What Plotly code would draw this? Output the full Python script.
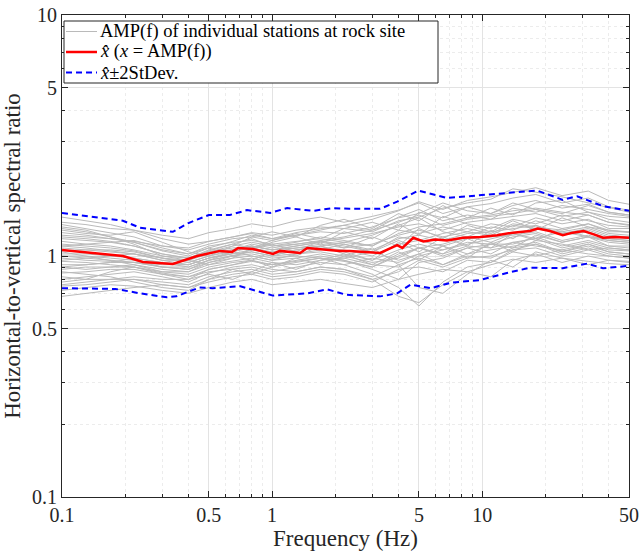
import plotly.graph_objects as go

# frequency grid for individual station curves (Hz)
freq = [0.1, 0.13, 0.17, 0.22, 0.3, 0.4, 0.5, 0.65, 0.8, 1.0, 1.3, 1.7, 2.2, 3.0, 4.0,
        5.0, 6.5, 8.5, 11, 14, 18, 24, 32, 40, 50]

stations = [
    [1.38,1.35,1.30,1.28,1.22,1.18,1.25,1.30,1.36,1.32,1.40,1.45,1.38,1.46,1.55,1.66,1.50,1.60,1.65,1.74,1.80,1.66,1.74,1.60,1.55],
    [0.72,0.74,0.76,0.75,0.72,0.70,0.74,0.78,0.80,0.76,0.78,0.80,0.77,0.74,0.80,0.84,0.88,0.86,0.92,0.97,0.94,0.98,0.95,0.93,0.92],
    [1.20,1.18,1.15,1.10,1.02,0.98,1.05,1.12,1.18,1.10,1.14,1.20,1.16,1.10,1.28,1.24,1.32,1.26,1.36,1.32,1.44,1.36,1.42,1.30,1.30],
    [0.90,0.88,0.90,0.92,0.88,0.86,0.92,0.95,0.98,0.94,0.92,0.96,0.98,1.04,0.96,1.02,1.10,1.02,1.12,1.08,1.22,1.14,1.20,1.10,1.10],
    [1.30,1.26,1.20,1.14,1.05,1.00,1.08,1.15,1.22,1.18,1.25,1.30,1.34,1.28,1.45,1.56,1.40,1.48,1.42,1.58,1.52,1.62,1.56,1.50,1.46],
    [0.80,0.82,0.84,0.86,0.82,0.78,0.85,0.90,0.92,0.88,0.86,0.90,0.88,0.80,0.68,0.64,0.76,0.86,0.82,0.96,1.02,0.94,1.00,0.96,0.95],
    [1.10,1.08,1.05,1.02,0.96,0.92,0.98,1.02,1.04,1.00,1.06,1.10,1.14,1.22,1.34,1.44,1.26,1.20,1.32,1.28,1.40,1.30,1.36,1.26,1.26],
    [1.00,1.00,0.98,0.96,0.90,0.88,0.96,1.00,1.02,0.98,1.00,0.98,0.95,0.90,1.00,1.08,1.12,1.20,1.14,1.24,1.18,1.26,1.20,1.18,1.16],
    [1.45,1.40,1.35,1.28,1.18,1.12,1.15,1.20,1.25,1.22,1.28,1.32,1.30,1.26,1.40,1.45,1.58,1.66,1.72,1.90,1.84,1.76,1.66,1.58,1.52],
    [0.68,0.70,0.72,0.74,0.76,0.74,0.78,0.82,0.84,0.80,0.82,0.86,0.84,0.78,0.88,0.90,0.86,0.96,0.94,1.04,1.00,1.06,1.02,1.00,0.98],
    [1.15,1.12,1.10,1.06,1.00,0.96,1.02,1.06,1.10,1.06,1.10,1.14,1.10,1.04,1.20,1.16,1.24,1.30,1.24,1.36,1.32,1.28,1.36,1.28,1.25],
    [0.95,0.94,0.92,0.90,0.85,0.82,0.88,0.92,0.95,0.92,0.96,1.00,0.96,0.88,0.80,0.94,0.98,1.08,1.02,1.14,1.10,1.06,1.12,1.06,1.05],
    [1.25,1.22,1.18,1.15,1.10,1.08,1.15,1.20,1.24,1.18,1.22,1.26,1.24,1.32,1.44,1.50,1.66,1.54,1.50,1.62,1.70,1.58,1.64,1.52,1.48],
    [0.85,0.86,0.88,0.88,0.84,0.82,0.86,0.88,0.90,0.86,0.90,0.94,0.92,0.98,0.94,1.02,0.92,1.00,0.98,1.08,1.12,1.02,1.08,1.02,1.00],
    [1.05,1.06,1.06,1.04,0.98,0.94,1.00,1.04,1.08,1.04,1.08,1.12,1.08,1.12,1.22,1.28,1.20,1.26,1.22,1.34,1.30,1.26,1.32,1.24,1.22],
    [0.76,0.78,0.80,0.82,0.80,0.80,0.88,0.92,0.96,0.90,0.94,0.98,0.92,0.84,0.74,0.62,0.78,0.90,0.94,1.06,1.12,1.04,1.12,1.04,1.02],
    [1.35,1.30,1.25,1.20,1.10,1.06,1.12,1.18,1.20,1.16,1.22,1.28,1.34,1.42,1.54,1.68,1.56,1.70,1.76,1.84,1.92,1.78,1.86,1.70,1.64],
    [1.00,0.98,0.96,0.94,0.92,0.92,0.98,1.04,1.10,1.06,1.08,1.10,1.04,0.96,1.06,1.12,1.06,1.14,1.12,1.20,1.24,1.14,1.20,1.14,1.12],
    [0.88,0.90,0.90,0.90,0.86,0.84,0.90,0.94,0.96,0.92,0.95,0.98,0.96,0.90,1.02,1.08,1.00,1.08,1.12,1.12,1.20,1.10,1.16,1.10,1.08],
    [1.12,1.10,1.08,1.05,0.98,0.94,1.00,1.06,1.12,1.08,1.12,1.16,1.20,1.28,1.38,1.48,1.34,1.42,1.46,1.50,1.56,1.46,1.52,1.42,1.38],
    [0.98,0.96,0.95,0.94,0.90,0.90,0.96,1.00,1.04,1.00,1.02,1.04,1.00,0.94,0.98,1.08,1.02,1.10,1.08,1.14,1.18,1.08,1.14,1.08,1.06],
    [1.22,1.20,1.18,1.14,1.06,1.02,1.10,1.14,1.16,1.12,1.15,1.18,1.14,1.10,1.24,1.32,1.36,1.44,1.48,1.54,1.58,1.52,1.48,1.38,1.34],
    [0.82,0.80,0.80,0.80,0.76,0.74,0.80,0.84,0.86,0.82,0.84,0.88,0.86,0.80,0.86,0.96,0.90,0.98,1.00,1.06,1.08,1.00,1.06,1.00,0.98],
    [1.08,1.06,1.04,1.02,0.96,0.96,1.04,1.10,1.14,1.10,1.12,1.15,1.12,1.06,1.18,1.22,1.16,1.24,1.26,1.30,1.34,1.24,1.30,1.22,1.20],
    [0.92,0.92,0.94,0.94,0.90,0.88,0.94,0.98,1.00,0.96,0.98,1.02,0.98,0.92,0.90,1.00,1.06,1.12,1.18,1.24,1.30,1.24,1.28,1.20,1.18],
    [1.18,1.16,1.14,1.10,1.02,0.98,1.04,1.08,1.10,1.06,1.10,1.14,1.18,1.24,1.32,1.36,1.28,1.38,1.42,1.46,1.50,1.40,1.48,1.38,1.35],
    [1.02,1.02,1.00,0.98,0.94,0.92,0.98,1.02,1.06,1.02,1.06,1.08,1.06,1.00,1.12,1.16,1.10,1.18,1.20,1.22,1.26,1.16,1.22,1.16,1.14],
    [0.75,0.76,0.78,0.80,0.78,0.76,0.82,0.86,0.88,0.84,0.86,0.90,0.88,0.82,0.92,0.98,0.92,1.02,1.06,1.10,1.14,1.04,1.10,1.04,1.02],
    [1.28,1.24,1.22,1.26,1.14,1.04,1.00,1.10,1.20,1.26,1.20,1.34,1.42,1.30,1.50,1.40,1.62,1.44,1.58,1.48,1.66,1.70,1.52,1.46,1.44],
    [0.86,0.84,0.82,0.78,0.74,0.72,0.80,0.88,0.84,0.90,0.98,0.92,1.00,1.08,0.92,0.74,0.70,0.84,0.96,0.90,1.04,0.98,0.92,0.96,0.94],
    [1.10,1.12,1.14,1.16,1.08,1.02,1.08,1.00,1.06,1.14,1.20,1.12,1.26,1.18,1.36,1.22,1.46,1.36,1.30,1.42,1.36,1.48,1.40,1.34,1.32],
    [0.96,0.98,1.00,1.02,0.98,0.96,0.92,0.98,1.08,1.12,1.04,1.16,1.08,1.20,1.10,1.30,1.18,1.34,1.26,1.40,1.28,1.44,1.32,1.28,1.26],
    [0.78,0.80,0.86,0.90,0.84,0.80,0.84,0.80,0.86,0.94,0.88,0.96,1.02,0.92,1.04,0.96,1.10,0.98,1.14,1.04,1.16,1.12,1.06,1.08,1.06],
    [1.32,1.28,1.20,1.12,1.00,0.98,1.06,1.12,1.08,1.16,1.24,1.18,1.30,1.38,1.28,1.52,1.44,1.60,1.50,1.66,1.56,1.50,1.62,1.52,1.48],
    [1.04,1.00,0.96,0.92,0.86,0.86,0.94,1.00,0.96,1.04,1.00,1.10,1.02,0.96,1.14,1.04,1.20,1.10,1.28,1.18,1.34,1.22,1.26,1.18,1.16],
    [0.90,0.92,0.94,0.98,0.94,0.90,0.96,1.04,1.00,0.96,1.02,1.06,1.12,1.04,1.16,1.08,1.02,1.18,1.08,1.24,1.16,1.30,1.20,1.16,1.14],
]

# median curve
med_f = [0.1, 0.195, 0.243, 0.337, 0.44, 0.565, 0.645, 0.69, 0.81, 1.01, 1.09, 1.36, 1.47, 1.8, 2.1,
         2.34, 3.27, 3.94, 4.17, 4.7, 5.25, 6.0, 6.8, 8.1, 9.8, 11.8, 14.0, 16.9, 18.4, 21.0, 24.2,
         27.0, 30.4, 34.0, 37.6, 43.0, 50]
med_v = [1.06, 1.00, 0.945, 0.927, 1.00, 1.05, 1.04, 1.08, 1.07, 1.02, 1.05, 1.03, 1.08, 1.06, 1.05,
         1.05, 1.03, 1.11, 1.08, 1.19, 1.15, 1.17, 1.16, 1.19, 1.20, 1.22, 1.25, 1.27, 1.30, 1.27, 1.22,
         1.25, 1.27, 1.23, 1.19, 1.20, 1.19]

# +2 StDev curve
up_f = [0.1, 0.195, 0.235, 0.337, 0.4, 0.5, 0.63, 0.76, 0.98, 1.18, 1.57, 1.95, 2.34, 3.27, 3.94,
        4.97, 6.8, 8.7, 13.5, 18.2, 24.2, 28.3, 37.6, 50]
up_v = [1.51, 1.40, 1.31, 1.26, 1.37, 1.48, 1.48, 1.55, 1.51, 1.58, 1.54, 1.58, 1.57, 1.57, 1.68,
        1.87, 1.74, 1.77, 1.82, 1.87, 1.71, 1.77, 1.61, 1.54]

# -2 StDev curve
lo_f = [0.1, 0.18, 0.235, 0.316, 0.35, 0.45, 0.52, 0.7, 1.01, 1.47, 1.83, 2.26, 3.27, 3.94, 4.56,
        5.7, 7.1, 9.8, 13.1, 16.9, 24.2, 31.6, 37.6, 50]
lo_v = [0.735, 0.73, 0.70, 0.674, 0.68, 0.74, 0.735, 0.75, 0.685, 0.70, 0.727, 0.69, 0.68, 0.70, 0.76,
        0.735, 0.775, 0.795, 0.85, 0.894, 0.89, 0.93, 0.89, 0.91]

x_ticks = [0.1, 0.5, 1, 5, 10, 50]
x_ticklabels = ["0.1", "0.5", "1", "5", "10", "50"]
y_ticks = [0.1, 0.5, 1, 5, 10]
y_ticklabels = ["0.1", "0.5", "1", "5", "10"]

legend_labels = ["AMP(f) of individual stations at rock site",
                 "<i>x̂</i> (<i>x</i> = AMP(f))",
                 "<i>x̂</i>±2StDev."]

FONT = "Liberation Serif"
GRAY = "#bababa"
RED = "#ff0000"
BLUE = "#0000ff"
DASH = "6px,4px"

W, H = 640, 553
ML, MR, MT, MB = 62, 11, 15, 56
PW, PH = W - ML - MR, H - MT - MB

def px(xp):
    return (xp - ML) / PW

def py(yp):
    return (H - MB - yp) / PH

fig = go.Figure()
for i, s in enumerate(stations):
    fig.add_trace(go.Scatter(
        x=freq, y=s, mode="lines", line=dict(color=GRAY, width=1),
        showlegend=False, hoverinfo="skip"))

fig.add_trace(go.Scatter(x=up_f, y=up_v, mode="lines",
                         line=dict(color=BLUE, width=2, dash=DASH), showlegend=False))
fig.add_trace(go.Scatter(x=lo_f, y=lo_v, mode="lines",
                         line=dict(color=BLUE, width=2, dash=DASH), showlegend=False))
fig.add_trace(go.Scatter(x=med_f, y=med_v, mode="lines",
                         line=dict(color=RED, width=2.5), showlegend=False))

def minor_vals(lo_exp, hi_exp, skip):
    out = []
    for e in range(lo_exp, hi_exp):
        for m in range(2, 10):
            v = round(m * 10 ** e, 6)
            if v not in skip:
                out.append(v)
    return out

xminor = [v for v in minor_vals(-1, 2, [0.5, 5]) if v < 50]
yminor = minor_vals(-1, 1, [0.5, 5])

axis_common = dict(
    type="log", showline=True, linecolor="#262626", linewidth=1, mirror="allticks",
    ticks="inside", ticklen=6, tickcolor="#262626", automargin=False,
    showgrid=True, gridcolor="#e3e3e3", gridwidth=1, zeroline=False,
    tickfont=dict(family=FONT, size=20, color="#262626"),
)

fig.update_xaxes(
    **axis_common,
    range=[-1, 1.69897],
    tickmode="array", tickvals=x_ticks, ticktext=x_ticklabels,
    minor=dict(tickmode="array", tickvals=xminor, ticks="inside", ticklen=3,
               tickcolor="#262626", showgrid=True, gridcolor="#ececec", griddash="dot"),
    title=dict(text="Frequency (Hz)", font=dict(family=FONT, size=23, color="#262626"), standoff=2),
)
fig.update_yaxes(
    **axis_common,
    range=[-1, 1],
    tickmode="array", tickvals=y_ticks, ticktext=y_ticklabels,
    minor=dict(tickmode="array", tickvals=yminor, ticks="inside", ticklen=3,
               tickcolor="#262626", showgrid=True, gridcolor="#ececec", griddash="dot"),
    title=dict(text="Horizontal-to-vertical spectral ratio", font=dict(family=FONT, size=23, color="#262626"), standoff=4),
)

# custom legend (box, samples, labels)
shapes = [dict(type="rect", xref="paper", yref="paper",
               x0=px(64), x1=px(438), y0=py(83), y1=py(21),
               line=dict(color="#262626", width=1), fillcolor="white", layer="above")]
rows = [31.5, 52.0, 72.5]
samples = [dict(color=GRAY, width=1), dict(color=RED, width=2.5), dict(color=BLUE, width=2, dash=DASH)]
annotations = []
for yr, ln, lab in zip(rows, samples, legend_labels):
    shapes.append(dict(type="line", xref="paper", yref="paper",
                       x0=px(66), x1=px(97), y0=py(yr), y1=py(yr), line=ln, layer="above"))
    annotations.append(dict(xref="paper", yref="paper", x=px(98), y=py(yr),
                            xanchor="left", yanchor="middle", showarrow=False,
                            text=lab, font=dict(family=FONT, size=18.5, color="#000000")))

fig.update_layout(
    width=W, height=H,
    margin=dict(l=ML, r=MR, t=MT, b=MB),
    plot_bgcolor="white", paper_bgcolor="white",
    font=dict(family=FONT, size=20, color="#000000"),
    shapes=shapes, annotations=annotations,
    showlegend=False,
)

fig.write_html("out.html")
